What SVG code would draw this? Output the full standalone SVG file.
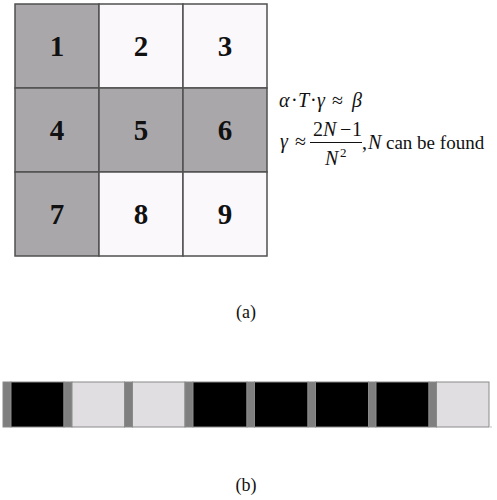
<svg xmlns="http://www.w3.org/2000/svg" width="497" height="500" viewBox="0 0 497 500">
<style>
.dk{fill:#aaa7aa}
.lt{fill:#fbf8fb}
.cell{stroke:#505050;stroke-width:1.5}
.num{font-family:"Liberation Serif","Times New Roman",Times,serif;font-weight:bold;font-size:29px;text-anchor:middle;fill:#111}
.m{font-family:"Liberation Serif","Times New Roman",Times,serif;font-size:20px;fill:#111}
.mi{font-style:italic}
.cap{font-family:"Liberation Serif","Times New Roman",Times,serif;font-size:18px;text-anchor:middle;fill:#111}
.sep{fill:#7f7f7f}
.blk{fill:#000}
.lgt{fill:#e1dee1}
</style>
<rect width="497" height="500" fill="#fff"/>
<g id="grid">
<g id="c1"><rect class="dk cell" x="15" y="4" width="84" height="84"/><text class="num" x="57" y="56">1</text></g>
<g id="c2"><rect class="lt cell" x="99" y="4" width="84" height="84"/><text class="num" x="141" y="56">2</text></g>
<g id="c3"><rect class="lt cell" x="183" y="4" width="84" height="84"/><text class="num" x="225" y="56">3</text></g>
<g id="c4"><rect class="dk cell" x="15" y="88" width="84" height="84"/><text class="num" x="57" y="140">4</text></g>
<g id="c5"><rect class="dk cell" x="99" y="88" width="84" height="84"/><text class="num" x="141" y="140">5</text></g>
<g id="c6"><rect class="dk cell" x="183" y="88" width="84" height="84"/><text class="num" x="225" y="140">6</text></g>
<g id="c7"><rect class="dk cell" x="15" y="172" width="84" height="84"/><text class="num" x="57" y="224">7</text></g>
<g id="c8"><rect class="lt cell" x="99" y="172" width="84" height="84"/><text class="num" x="141" y="224">8</text></g>
<g id="c9"><rect class="lt cell" x="183" y="172" width="84" height="84"/><text class="num" x="225" y="224">9</text></g>
</g>
<g id="formula">
<text class="m" y="107"><tspan class="mi" x="279">α</tspan><tspan x="291">·</tspan><tspan class="mi" x="298">T</tspan><tspan x="310">·</tspan><tspan class="mi" x="317">γ</tspan><tspan x="332">≈</tspan><tspan class="mi" x="352">β</tspan></text>
<text class="m" y="148"><tspan class="mi" x="280">γ</tspan><tspan x="295">≈</tspan></text>
<text class="m" y="136"><tspan x="313">2</tspan><tspan class="mi" x="323">N</tspan><tspan x="340">−</tspan><tspan x="352">1</tspan></text>
<line x1="310" y1="142.5" x2="362" y2="142.5" stroke="#111" stroke-width="1"/>
<text class="m" y="165"><tspan class="mi" x="325">N</tspan><tspan font-size="13" x="340" y="157">2</tspan></text>
<text class="m" y="149"><tspan x="362">,</tspan><tspan class="mi" x="368">N</tspan><tspan x="386" font-size="19">can be found</tspan></text>
</g>
<text class="cap" x="246" y="318">(a)</text>
<g id="bar" stroke="#8a8a8a" stroke-width="1">
<rect class="sep" x="3" y="382" width="8" height="45"/><rect class="blk" x="11" y="382" width="53" height="45"/>
<rect class="sep" x="64" y="382" width="8" height="45"/><rect class="lgt" x="72" y="382" width="52.5" height="45"/>
<rect class="sep" x="124.5" y="382" width="8" height="45"/><rect class="lgt" x="132.5" y="382" width="52.5" height="45"/>
<rect class="sep" x="185" y="382" width="8" height="45"/><rect class="blk" x="193" y="382" width="54" height="45"/>
<rect class="sep" x="247" y="382" width="7.5" height="45"/><rect class="blk" x="254.5" y="382" width="53.5" height="45"/>
<rect class="sep" x="308" y="382" width="7.5" height="45"/><rect class="blk" x="315.5" y="382" width="53" height="45"/>
<rect class="sep" x="368.5" y="382" width="7.5" height="45"/><rect class="blk" x="376" y="382" width="53" height="45"/>
<rect class="sep" x="429" y="382" width="7.5" height="45"/><rect class="lgt" x="436.5" y="382" width="52.5" height="45"/>
</g>
<rect x="490.5" y="426.5" width="1" height="1" fill="#888"/>
<text class="cap" x="246" y="491">(b)</text>
</svg>
